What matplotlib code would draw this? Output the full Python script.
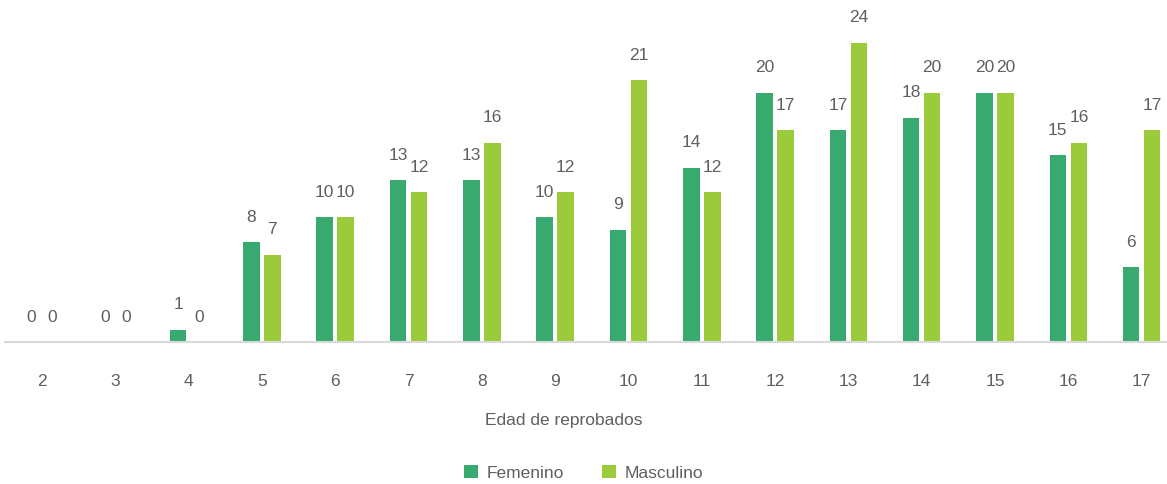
import numpy as np
import matplotlib.pyplot as plt

plt.rcParams['font.family'] = ['Liberation Sans', 'DejaVu Sans']

edades = ['2', '3', '4', '5', '6', '7', '8', '9', '10', '11', '12', '13', '14', '15', '16', '17']
femenino = [0, 0, 1, 8, 10, 13, 13, 10, 9, 14, 20, 17, 18, 20, 15, 6]
masculino = [0, 0, 0, 7, 10, 12, 16, 12, 21, 12, 17, 24, 20, 20, 16, 17]

c_fem = '#38A96F'
c_mas = '#9BCB3B'
gris = '#5f5f5f'
fs = 12.5

fig = plt.figure(figsize=(11.67, 4.84), dpi=100)
ax = fig.add_axes([5.3 / 1167, 1 - 342 / 484, 1173 / 1167, 342 / 484])

x = np.arange(len(edades))
w = 0.225
off = 0.143
b1 = ax.bar(x - off, femenino, w, color=c_fem, label='Femenino')
b2 = ax.bar(x + off, masculino, w, color=c_mas, label='Masculino')

for bars, vals in [(b1, femenino), (b2, masculino)]:
    for b, v in zip(bars, vals):
        ax.annotate(str(v), (b.get_x() + b.get_width() / 2, v),
                    xytext=(0, 18), textcoords='offset points',
                    ha='center', va='center', fontsize=fs, color=gris)

ax.set_xlim(-0.5, len(edades) - 0.5)
ax.set_ylim(0, 342 / 12.46)
ax.set_xticks(x)
ax.set_xticklabels(edades, fontsize=fs, color=gris)
ax.tick_params(axis='x', length=0, pad=23)
ax.set_yticks([])
for s in ['top', 'right', 'left']:
    ax.spines[s].set_visible(False)
ax.spines['bottom'].set_color('#d9d9d9')
ax.spines['bottom'].set_linewidth(1.5)

fig.text(564 / 1167, 1 - 420 / 484, 'Edad de reprobados', ha='center', va='center',
         fontsize=fs, color=gris)

fig.legend(handles=[b1, b2], loc='center', bbox_to_anchor=(584 / 1167, 1 - 473 / 484),
           ncol=2, frameon=False, fontsize=fs, labelcolor=gris,
           handlelength=0.8, handleheight=0.8, columnspacing=2.2, handletextpad=0.5)

fig.savefig('out.png', dpi=100)
